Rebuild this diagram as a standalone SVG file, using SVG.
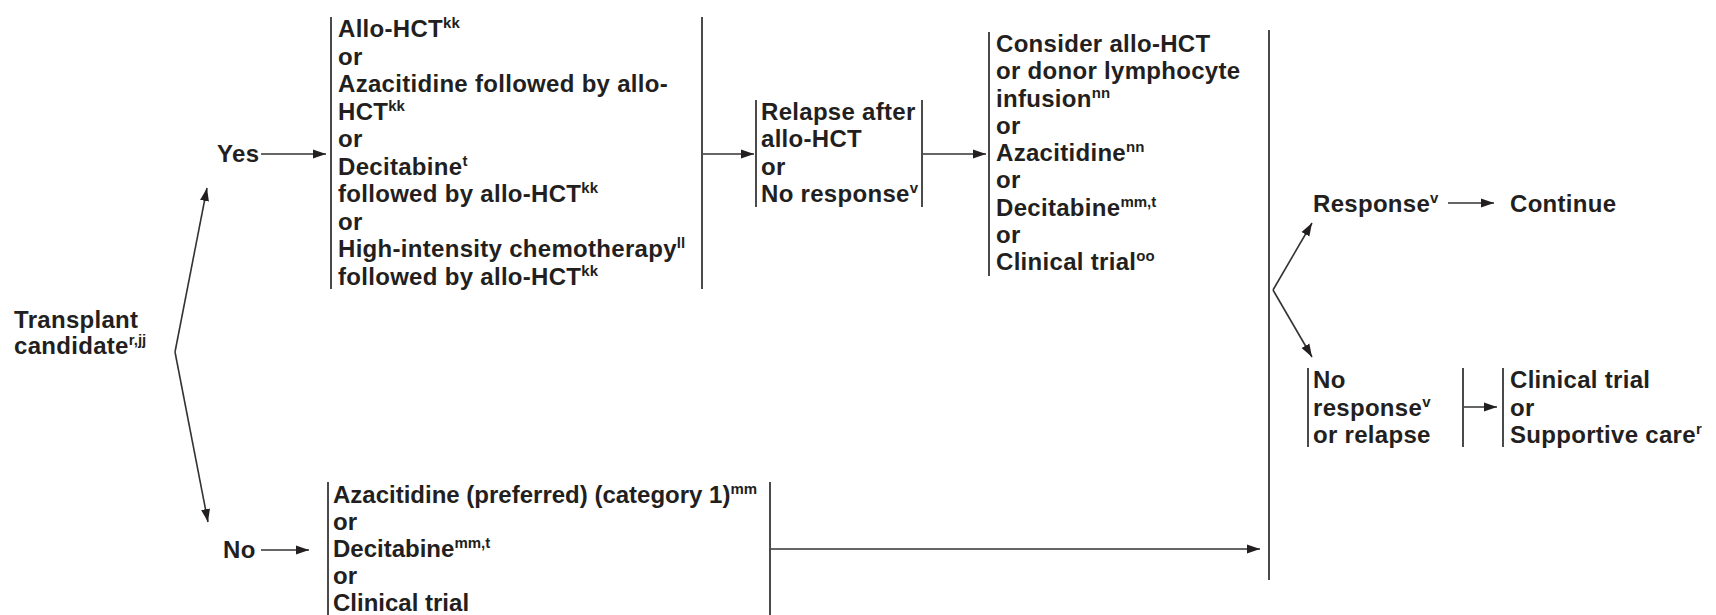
<svg xmlns="http://www.w3.org/2000/svg" width="1716" height="615" viewBox="0 0 1716 615">
<defs>
<style>
text{font-family:"Liberation Sans",Arial,sans-serif;font-weight:bold;font-size:24px;fill:#231f20;letter-spacing:0.3px}
.tight text{letter-spacing:0}
.sup{font-size:15px;letter-spacing:0}
.bar{stroke:#4a4a4a;stroke-width:2;fill:none}
.arr{stroke:#333;stroke-width:1.6;fill:none;marker-end:url(#ah)}
</style>
<marker id="ah" markerUnits="userSpaceOnUse" markerWidth="14" markerHeight="10" refX="13" refY="5" orient="auto">
<path d="M0,0.5 L13,5 L0,9.5 z" fill="#231f20"/>
</marker>
</defs>
<rect width="1716" height="615" fill="#fff"/>

<g id="connectors">
<path class="arr" d="M175,352 L207,188"/>
<path class="arr" d="M175,352 L208,522"/>
<path class="arr" d="M261,154 L326,154"/>
<path class="arr" d="M261,550 L309,550"/>
<path class="arr" d="M703,154 L754,154"/>
<path class="arr" d="M923,154 L986,154"/>
<path class="arr" d="M771,549 L1260,549"/>
<path class="arr" d="M1273,290 L1312,223"/>
<path class="arr" d="M1273,290 L1312,357"/>
<path class="arr" d="M1448,203 L1494,203"/>
<path class="arr" d="M1464,407 L1497,407"/>
</g>

<g id="transplant">
<text x="14" y="328">Transplant</text>
<text x="14" y="354">candidate<tspan class="sup" dy="-9">r,jj</tspan></text>
</g>

<g id="yes">
<text x="217" y="162">Yes</text>
</g>

<g id="no">
<text x="223" y="558">No</text>
</g>

<g id="transplant-options">
<line class="bar" x1="331" y1="17" x2="331" y2="289"/>
<line class="bar" x1="702" y1="17" x2="702" y2="289"/>
<text x="338" y="37">Allo-HCT<tspan class="sup" dy="-9">kk</tspan></text>
<text x="338" y="64.5">or</text>
<text x="338" y="92">Azacitidine followed by allo-</text>
<text x="338" y="119.5">HCT<tspan class="sup" dy="-9">kk</tspan></text>
<text x="338" y="147">or</text>
<text x="338" y="174.5">Decitabine<tspan class="sup" dy="-9">t</tspan></text>
<text x="338" y="202">followed by allo-HCT<tspan class="sup" dy="-9">kk</tspan></text>
<text x="338" y="229.5">or</text>
<text x="338" y="257">High-intensity chemotherapy<tspan class="sup" dy="-9">ll</tspan></text>
<text x="338" y="284.5">followed by allo-HCT<tspan class="sup" dy="-9">kk</tspan></text>
</g>

<g id="relapse">
<line class="bar" x1="756" y1="100" x2="756" y2="207"/>
<line class="bar" x1="922" y1="100" x2="922" y2="207"/>
<text x="761" y="120">Relapse after</text>
<text x="761" y="147.3">allo-HCT</text>
<text x="761" y="174.6">or</text>
<text x="761" y="202">No response<tspan class="sup" dy="-9">v</tspan></text>
</g>

<g id="relapse-options">
<line class="bar" x1="989" y1="32" x2="989" y2="276"/>
<text x="996" y="52">Consider allo-HCT</text>
<text x="996" y="79.25">or donor lymphocyte</text>
<text x="996" y="106.5">infusion<tspan class="sup" dy="-9">nn</tspan></text>
<text x="996" y="133.75">or</text>
<text x="996" y="161">Azacitidine<tspan class="sup" dy="-9">nn</tspan></text>
<text x="996" y="188.25">or</text>
<text x="996" y="215.5">Decitabine<tspan class="sup" dy="-9">mm,t</tspan></text>
<text x="996" y="242.75">or</text>
<text x="996" y="270">Clinical trial<tspan class="sup" dy="-9">oo</tspan></text>
</g>

<g id="nontransplant-options" class="tight">
<line class="bar" x1="328" y1="482" x2="328" y2="615"/>
<line class="bar" x1="770" y1="482" x2="770" y2="615"/>
<text x="333" y="503">Azacitidine (preferred) (category 1)<tspan class="sup" dy="-9">mm</tspan></text>
<text x="333" y="530">or</text>
<text x="333" y="557">Decitabine<tspan class="sup" dy="-9">mm,t</tspan></text>
<text x="333" y="584">or</text>
<text x="333" y="611">Clinical trial</text>
</g>

<g id="merge">
<line class="bar" x1="1269" y1="30" x2="1269" y2="580"/>
</g>

<g id="response">
<text x="1313" y="212">Response<tspan class="sup" dy="-9">v</tspan></text>
</g>

<g id="continue">
<text x="1510" y="212">Continue</text>
</g>

<g id="no-response">
<line class="bar" x1="1308" y1="368" x2="1308" y2="447"/>
<line class="bar" x1="1463" y1="368" x2="1463" y2="447"/>
<text x="1313" y="388">No</text>
<text x="1313" y="415.5">response<tspan class="sup" dy="-9">v</tspan></text>
<text x="1313" y="443">or relapse</text>
</g>

<g id="final-options">
<line class="bar" x1="1503" y1="368" x2="1503" y2="447"/>
<text x="1510" y="388">Clinical trial</text>
<text x="1510" y="415.5">or</text>
<text x="1510" y="443">Supportive care<tspan class="sup" dy="-9">r</tspan></text>
</g>
</svg>
